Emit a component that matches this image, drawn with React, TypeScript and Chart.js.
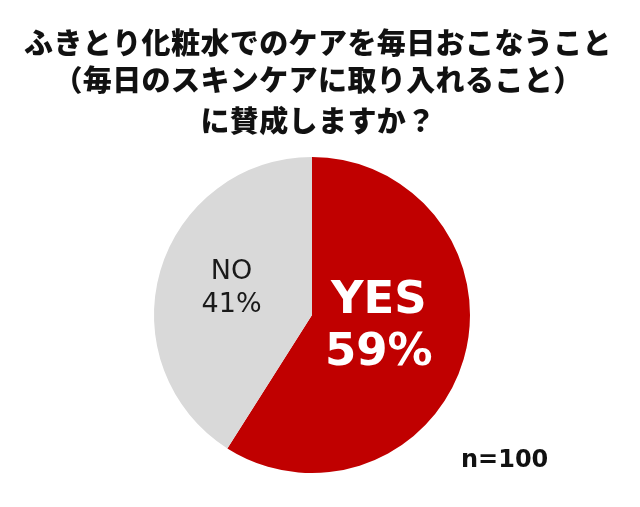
import { useEffect, useRef } from "react";
import { Chart, registerables } from "chart.js";

Chart.register(...registerables);

const TITLE_LINES = [
	"ふきとり化粧水でのケアを毎日おこなうこと",
	"（毎日のスキンケアに取り入れること）",
	"に賛成しますか？",
];
const TITLE_Y = [43, 80, 121];
const CATEGORIES = ["YES", "NO"];
const VALUES = [59, 41];
const COLORS = ["#C00000", "#D9D9D9"];
const SAMPLE_NOTE = "n=100";

const JP_FONT = '"Noto Sans CJK JP", "Noto Sans", sans-serif';
const LATIN_FONT = '"DejaVu Sans", Verdana, sans-serif';

// slice label styles: font, colour, line gap, position along the radius, nudge
const LABEL_STYLE = [
	{ font: `bold 45px ${LATIN_FONT}`, color: "#FFFFFF", gap: 52, frac: 0.44, dy: -7 },
	{ font: `27px ${LATIN_FONT}`, color: "#1A1A1A", gap: 33, frac: 0.53, dy: -3 },
];

const textPlugin = {
	id: "pieText",
	afterDraw(chart: Chart) {
		const ctx = chart.ctx;
		ctx.save();
		ctx.textAlign = "center";
		ctx.textBaseline = "middle";

		// title
		ctx.fillStyle = "#111111";
		ctx.font = `900 29px ${JP_FONT}`;
		(ctx as any).letterSpacing = "0.4px";
		TITLE_LINES.forEach((line, i) => ctx.fillText(line, 318, TITLE_Y[i]));
		(ctx as any).letterSpacing = "0px";

		// slice labels
		const meta = chart.getDatasetMeta(0);
		meta.data.forEach((el, i) => {
			const p = el.getProps(["x", "y", "startAngle", "endAngle", "outerRadius"], true) as any;
			const mid = (p.startAngle + p.endAngle) / 2;
			const st = LABEL_STYLE[i];
			const cx = p.x + Math.cos(mid) * p.outerRadius * st.frac;
			const cy = p.y + Math.sin(mid) * p.outerRadius * st.frac + st.dy;
			ctx.font = st.font;
			ctx.fillStyle = st.color;
			ctx.fillText(CATEGORIES[i], cx, cy - st.gap / 2);
			ctx.fillText(`${VALUES[i]}%`, cx, cy + st.gap / 2);
		});

		// sample size
		ctx.font = `bold 24px ${LATIN_FONT}`;
		ctx.fillStyle = "#111111";
		ctx.textAlign = "left";
		ctx.fillText(SAMPLE_NOTE, 461, 461);
		ctx.restore();
	},
};

export default function App() {
	const canvasRef = useRef<HTMLCanvasElement | null>(null);

	useEffect(() => {
		document.body.style.margin = "0";
		if (!canvasRef.current) return;
		const chart = new Chart(canvasRef.current, {
			type: "pie",
			data: {
				labels: CATEGORIES,
				datasets: [
					{
						data: VALUES,
						backgroundColor: COLORS,
						borderWidth: 0,
					},
				],
			},
			options: {
				animation: false,
				responsive: false,
				layout: { padding: { left: 154, right: 170, top: 157, bottom: 34 } },
				plugins: {
					legend: { display: false },
					title: { display: false },
					tooltip: { enabled: false },
				},
			},
			plugins: [textPlugin],
		});
		return () => chart.destroy();
	}, []);

	return (
		<div style={{ width: 640, height: 507, background: "#FFFFFF" }}>
			<canvas ref={canvasRef} width={640} height={507} />
		</div>
	);
}
